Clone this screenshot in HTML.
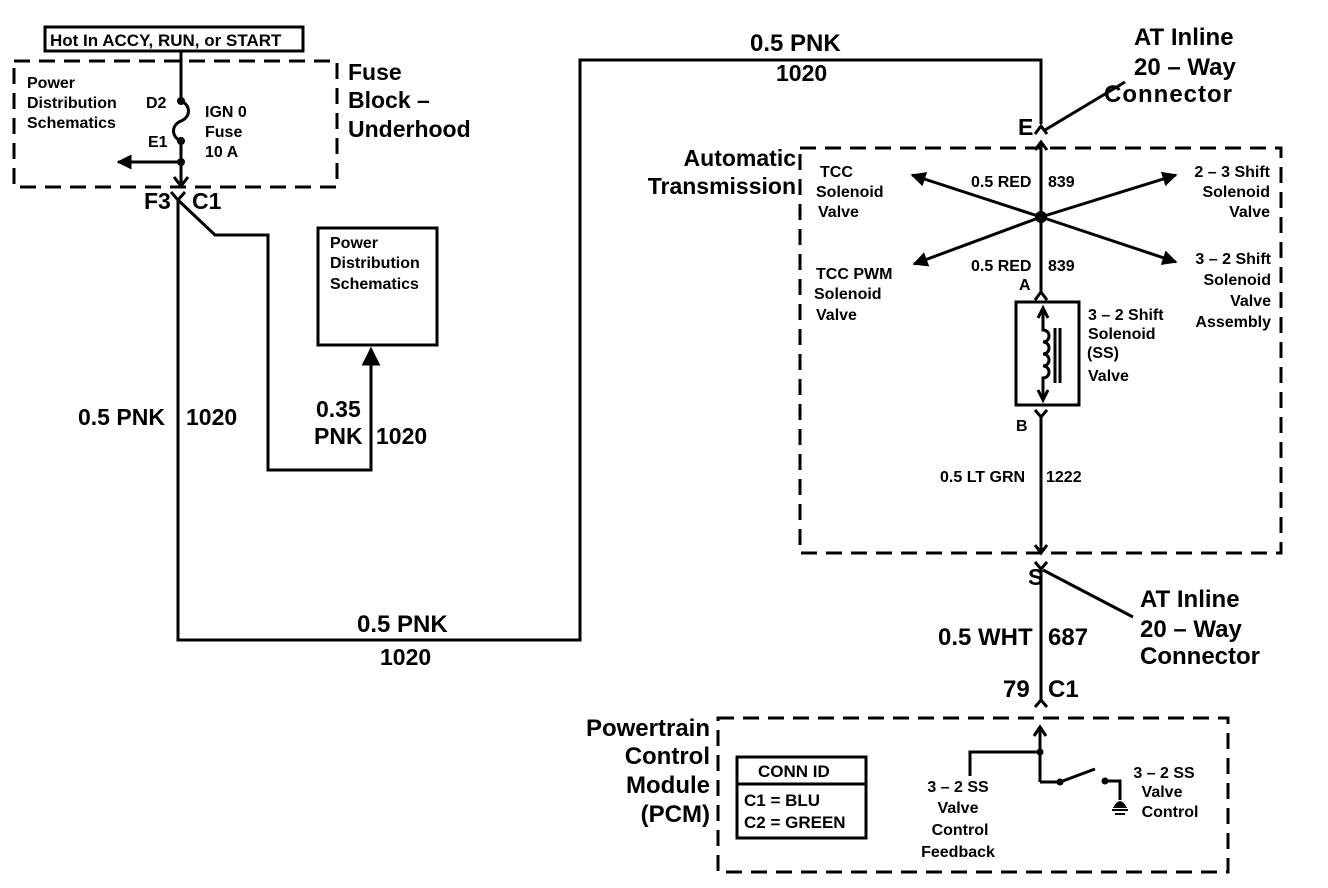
<!DOCTYPE html>
<html><head><meta charset="utf-8"><style>
html,body{margin:0;padding:0;background:#fff}
svg{display:block}
text{font-family:"Liberation Sans",Arial,sans-serif;font-weight:bold;fill:#000}
.s{font-size:16px}
.m{font-size:23px}
.b{font-size:24px}
</style></head><body>
<svg width="1328" height="888" viewBox="0 0 1328 888" xmlns="http://www.w3.org/2000/svg">
<defs>
<marker id="ar" viewBox="0 0 10 10" refX="9" refY="5" markerWidth="5" markerHeight="5" orient="auto-start-reverse"><path d="M0,0 L10,5 L0,10 z" fill="#000"/></marker>
</defs>
<g fill="none" stroke="#000" stroke-width="3">
<rect x="14" y="61" width="323" height="126" stroke-dasharray="16,9"/>
<rect x="800" y="148" width="481" height="405" stroke-dasharray="16,9"/>
<rect x="718" y="718" width="510" height="154" stroke-dasharray="16,9"/>
<rect x="45" y="27" width="258" height="24" stroke-width="3"/>
<rect x="318" y="228" width="119" height="117"/>
<rect x="737" y="757" width="129" height="81"/>
<line x1="737" y1="784" x2="866" y2="784"/>
<path d="M181,52 V101 c10,4 10,16 0,20 c-10,4 -10,16 0,20 V183"/>
<path d="M174,177 L181,186 L188,177"/>
<line x1="181" y1="162" x2="118" y2="162" marker-end="url(#ar)"/>
<path d="M171,192 L178,200 L185,192"/>
<path d="M178,200 V640 H580 V60 H1041 V124"/>
<path d="M1035,134 L1041,126 L1047,134"/>
<path d="M178,200 L215,235 H268 V470 H371 V352" />
<path d="M364,364 L371,350 L378,364 z" fill="#000"/>
<line x1="1045" y1="130" x2="1125" y2="82"/>
<line x1="1041" y1="142" x2="1041" y2="292"/>
<path d="M1035,150 L1041,142 L1047,150"/>
<path d="M1035,300 L1041,292 L1047,300"/>
<line x1="1041" y1="217" x2="912" y2="175" marker-end="url(#ar)"/>
<line x1="1041" y1="217" x2="1176" y2="175" marker-end="url(#ar)"/>
<line x1="1041" y1="217" x2="914" y2="264" marker-end="url(#ar)"/>
<line x1="1041" y1="217" x2="1176" y2="262" marker-end="url(#ar)"/>
<rect x="1016" y="302" width="63" height="103"/>
<path d="M1043,310 V330 c8,0 8,12 0,12 c8,0 8,12 0,12 c8,0 8,12 0,12 c8,0 8,12 0,12 V398"/>
<path d="M1038,318 L1043,308 L1048,318"/>
<path d="M1038,390 L1043,400 L1048,390"/>
<line x1="1055" y1="328" x2="1055" y2="383"/>
<line x1="1060" y1="328" x2="1060" y2="383"/>
<path d="M1035,410 L1041,417 L1047,410"/>
<line x1="1041" y1="417" x2="1041" y2="553"/>
<path d="M1035,545 L1041,553 L1047,545"/>
<path d="M1035,562 L1041,569 L1047,562"/>
<line x1="1043" y1="570" x2="1133" y2="617"/>
<line x1="1041" y1="569" x2="1041" y2="700"/>
<path d="M1035,707 L1041,700 L1047,707"/>
<line x1="1040" y1="728" x2="1040" y2="782"/>
<path d="M1034,736 L1040,727 L1046,736"/>
<path d="M1040,752 H970 V776"/>
<path d="M1040,782 H1060 L1095,769"/>
<path d="M1105,781 H1120 V800"/>
<line x1="1112" y1="810" x2="1128" y2="810" stroke-width="2"/>
<line x1="1115" y1="814" x2="1125" y2="814" stroke-width="2"/>
</g>
<g fill="#000">
<circle cx="181" cy="101" r="4"/><circle cx="181" cy="141" r="4"/><circle cx="181" cy="162" r="4"/>
<circle cx="1041" cy="217" r="6"/>
<circle cx="1040" cy="752" r="3.5"/><circle cx="1060" cy="782" r="3.5"/><circle cx="1105" cy="781" r="3.5"/>
<path d="M1113,808 q7,-14 14,0 z"/>
</g>
<text x="50" y="46" style="font-size:17px">Hot In ACCY, RUN, or START</text>
<text class="s"><tspan x="27" y="88">Power</tspan><tspan x="27" y="108">Distribution</tspan><tspan x="27" y="128">Schematics</tspan></text>
<text x="146" y="108" class="s">D2</text>
<text x="148" y="147" class="s">E1</text>
<text class="s"><tspan x="205" y="117">IGN 0</tspan><tspan x="205" y="137">Fuse</tspan><tspan x="205" y="157">10 A</tspan></text>
<text class="m"><tspan x="348" y="80">Fuse</tspan><tspan x="348" y="108">Block –</tspan><tspan x="348" y="137">Underhood</tspan></text>
<text x="144" y="209" class="m">F3</text><text x="192" y="209" class="m">C1</text>
<text class="s"><tspan x="330" y="248">Power</tspan><tspan x="330" y="268">Distribution</tspan><tspan x="330" y="289">Schematics</tspan></text>
<text x="78" y="425" class="m">0.5 PNK</text><text x="186" y="425" class="m">1020</text>
<text x="316" y="417" class="m">0.35</text>
<text x="314" y="444" class="m">PNK</text><text x="376" y="444" class="m">1020</text>
<text x="357" y="632" class="b">0.5 PNK</text><text x="380" y="665" class="m">1020</text>
<text x="750" y="51" class="b">0.5 PNK</text><text x="776" y="81" class="m">1020</text>
<text class="b"><tspan x="1134" y="45">AT Inline</tspan><tspan x="1134" y="75">20 – Way</tspan><tspan x="1104" y="102" style="letter-spacing:1px">Connector</tspan></text>
<text x="1018" y="135" class="m">E</text>
<text class="m" text-anchor="end"><tspan x="796" y="166">Automatic</tspan><tspan x="796" y="194">Transmission</tspan></text>
<text class="s"><tspan x="820" y="177">TCC</tspan><tspan x="816" y="197">Solenoid</tspan><tspan x="818" y="217">Valve</tspan></text>
<text class="s" x="971" y="187">0.5 RED</text><text class="s" x="1048" y="187">839</text>
<text class="s" x="971" y="271">0.5 RED</text><text class="s" x="1048" y="271">839</text>
<text class="s"><tspan x="816" y="279">TCC PWM</tspan><tspan x="814" y="299">Solenoid</tspan><tspan x="816" y="320">Valve</tspan></text>
<text class="s" text-anchor="end"><tspan x="1270" y="177">2 – 3 Shift</tspan><tspan x="1270" y="197">Solenoid</tspan><tspan x="1270" y="217">Valve</tspan></text>
<text class="s" text-anchor="end"><tspan x="1271" y="264">3 – 2 Shift</tspan><tspan x="1271" y="285">Solenoid</tspan><tspan x="1271" y="306">Valve</tspan><tspan x="1271" y="327">Assembly</tspan></text>
<text class="s" x="1019" y="290">A</text>
<text class="s"><tspan x="1088" y="320">3 – 2 Shift</tspan><tspan x="1088" y="339">Solenoid</tspan><tspan x="1087" y="358">(SS)</tspan><tspan x="1088" y="381">Valve</tspan></text>
<text class="s" x="1016" y="431">B</text>
<text class="s" x="940" y="482">0.5 LT GRN</text><text class="s" x="1046" y="482">1222</text>
<text x="1028" y="585" class="m">S</text>
<text class="b"><tspan x="1140" y="607">AT Inline</tspan><tspan x="1140" y="637">20 – Way</tspan><tspan x="1140" y="664">Connector</tspan></text>
<text x="938" y="645" class="b">0.5 WHT</text><text x="1048" y="645" class="b">687</text>
<text x="1003" y="697" class="b">79</text><text x="1048" y="697" class="b">C1</text>
<text class="b" text-anchor="end"><tspan x="710" y="736">Powertrain</tspan><tspan x="710" y="764">Control</tspan><tspan x="710" y="793">Module</tspan><tspan x="710" y="822">(PCM)</tspan></text>
<text style="font-size:17px" x="758" y="777">CONN ID</text>
<text style="font-size:17px" x="744" y="806">C1 = BLU</text>
<text style="font-size:17px" x="744" y="828">C2 = GREEN</text>
<text class="s" text-anchor="middle"><tspan x="958" y="792">3 – 2 SS</tspan><tspan x="958" y="813">Valve</tspan><tspan x="960" y="835">Control</tspan><tspan x="958" y="857">Feedback</tspan></text>
<text class="s" text-anchor="middle"><tspan x="1164" y="778">3 – 2 SS</tspan><tspan x="1162" y="797">Valve</tspan><tspan x="1170" y="817">Control</tspan></text>
</svg>
</body></html>
